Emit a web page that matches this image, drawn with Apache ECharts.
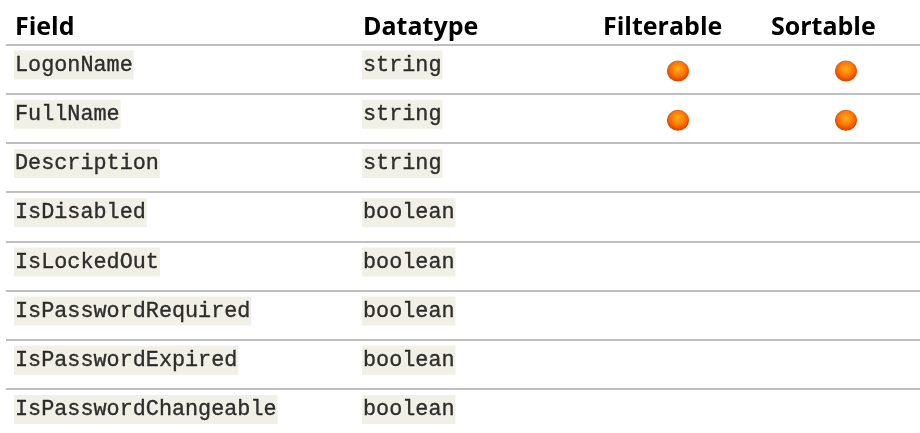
<!DOCTYPE html>
<html><head><meta charset="utf-8">
<style>html,body{margin:0;padding:0;background:#fff}#c{width:920px;height:433px}</style>
<script src="https://cdn.jsdelivr.net/npm/echarts@6/dist/echarts.min.js"></script>
</head><body><div id="c"></div>
<script>
const fields = ['LogonName','FullName','Description','IsDisabled','IsLockedOut','IsPasswordRequired','IsPasswordExpired','IsPasswordChangeable'];
const datatypes = ['string','string','string','boolean','boolean','boolean','boolean','boolean'];
const filterable = [true,true,false,false,false,false,false,false];
const sortable = [true,true,false,false,false,false,false,false];
const headers = ['Field','Datatype','Filterable','Sortable'];

const TOP = 44.5, H = 393.6;
const grids = [
  {left:6, width:914, top:TOP, height:H, outerBoundsMode:'none'},
  {left:354, width:240, top:TOP, height:H, outerBoundsMode:'none'},
  {left:603, width:150, top:TOP, height:H, outerBoundsMode:'none'},
  {left:771, width:150, top:TOP, height:H, outerBoundsMode:'none'}
];
const xAxis = headers.map((h,i)=>({
  gridIndex:i, type:'value', min:0, max:1, position:'top',
  axisLine:{show:false}, axisTick:{show:false}, axisLabel:{show:false}, splitLine:{show:false},
  name:h, nameLocation:'start', nameGap:i<2 ? -9 : 0,
  nameTextStyle:{align:'left', verticalAlign:'bottom', fontFamily:'Open Sans', fontWeight:'bold', fontSize:25, color:'#000', padding:[0,0,4,0]}
}));
const yAxis = headers.map((h,i)=>({
  gridIndex:i, type:'category', inverse:true, data:fields,
  axisLine:{show:false}, axisTick:{show:false}, axisLabel:{show:false},
  splitLine:{show:i===0, lineStyle:{color:'#BFBFBF', width:2}}
}));
function textSeries(i, values, distance){
  return {type:'scatter', xAxisIndex:i, yAxisIndex:i, symbolSize:0, silent:true,
    data:values.map((v,r)=>({value:[0,fields[r]], name:v})),
    label:{show:true, position:'right', distance:distance, offset:[0,-4],
      formatter:p=>p.name, fontFamily:'Liberation Mono', fontSize:21.8, color:'#000',
      textBorderColor:'#000', textBorderWidth:0.35,
      backgroundColor:'#EEECE1', padding:[4,1,4,1], lineHeight:21}};
}
function dotSeries(i, flags){
  return {type:'scatter', xAxisIndex:i, yAxisIndex:i, symbol:'circle', symbolSize:[22,21], symbolOffset:[0,2], silent:true,
    data:flags.map((f,r)=>f?[0.5,fields[r]]:null).filter(Boolean),
    itemStyle:{opacity:1, color:{type:'radial', x:0.5, y:0.4, r:0.62, colorStops:[
      {offset:0,color:'#FFB020'},{offset:0.5,color:'#FF7A00'},{offset:0.8,color:'#E84E00'},{offset:1,color:'#80604A'}]}}};
}
const chart = echarts.init(document.getElementById('c'), null, {renderer:'canvas'});
chart.setOption({
  animation:false, backgroundColor:'#fff',
  grid:grids, xAxis, yAxis,
  series:[textSeries(0,fields,8), textSeries(1,datatypes,8), dotSeries(2,filterable), dotSeries(3,sortable)]
});
</script></body></html>
